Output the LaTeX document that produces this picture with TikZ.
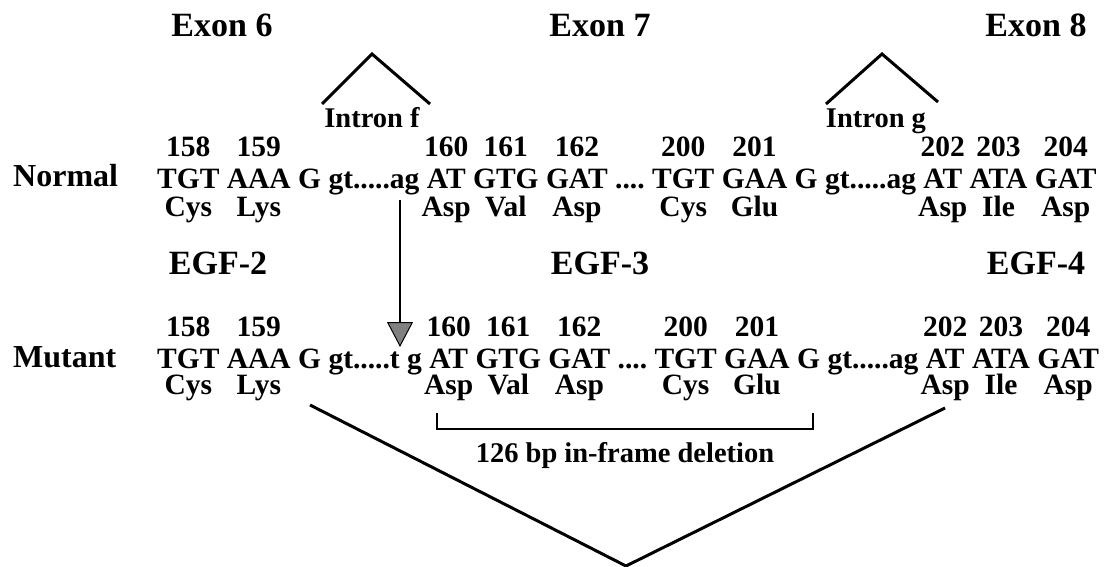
\documentclass[tikz,border=0pt]{standalone}
\usepackage{fontspec}
\setmainfont{Liberation Serif}
\usetikzlibrary{arrows.meta}

\tikzset{
  seq/.style={font=\fontsize{29.5}{30}\selectfont\bfseries, inner sep=0pt},
  big/.style={font=\fontsize{34}{36}\selectfont\bfseries, inner sep=0pt},
  side/.style={font=\fontsize{32}{34}\selectfont\bfseries, inner sep=0pt},
  small/.style={font=\fontsize{28.5}{30}\selectfont\bfseries, inner sep=0pt},
  thickline/.style={line width=3pt, line join=miter},
}

\begin{document}
\begin{tikzpicture}[x=1pt,y=-1pt]
  \useasboundingbox (0,0) rectangle (1120,567);

  % exon and domain titles
  \node[big,anchor=base] (ex6) at (222,37) {Exon 6};
  \node[big,anchor=base] (ex7) at (600,37) {Exon 7};
  \node[big,anchor=base] (ex8) at (1036,37) {Exon 8};
  \node[big,anchor=base] (egf2) at (218,274) {EGF-2};
  \node[big,anchor=base] (egf3) at (600,274) {EGF-3};
  \node[big,anchor=base] (egf4) at (1036,274) {EGF-4};

  % introns
  \coordinate (fl) at (322,104);
  \coordinate (ft) at (372,54);
  \coordinate (fr) at (430,104);
  \coordinate (gl) at (826,104);
  \coordinate (gt) at (882,54);
  \coordinate (gr) at (938,102);
  \draw[thickline] (fl) -- (ft) -- (fr);
  \draw[thickline] (gl) -- (gt) -- (gr);
  \node[small,anchor=base] (intf) at (372,128) {Intron f};
  \node[small,anchor=base] (intg) at (876,128) {Intron g};

  % normal sequence
  \node[side,anchor=base west] (normal) at (13,187) {Normal};
  \node[seq,anchor=base west] (n1) at (157,189) {TGT};
  \foreach \i/\j/\t in {2/1/AAA,3/2/{G gt.....ag},4/3/AT,5/4/GTG,6/5/GAT,7/6/{....},
                        8/7/TGT,9/8/GAA,10/9/{G gt.....ag},11/10/AT,12/11/ATA,13/12/GAT}
    \node[seq,anchor=base west] (n\i) at ([xshift=7pt]n\j.base east) {\t};
  \foreach \i/\n in {1/158,2/159,4/160,5/161,6/162,8/200,9/201,11/202,12/203,13/204}
    \node[seq,anchor=base] (nnum\i) at ([yshift=32pt]n\i.base) {\n};
  \foreach \i/\a in {1/Cys,2/Lys,4/Asp,5/Val,6/Asp,8/Cys,9/Glu,11/Asp,12/Ile,13/Asp}
    \node[seq,anchor=base] (naa\i) at ([yshift=-27pt]n\i.base) {\a};

  % mutant sequence
  \node[side,anchor=base west] (mutant) at (13,367) {Mutant};
  \node[seq,anchor=base west] (m1) at (157,368) {TGT};
  \foreach \i/\j/\t in {2/1/AAA,3/2/{G gt.....t g},4/3/AT,5/4/GTG,6/5/GAT,7/6/{....},
                        8/7/TGT,9/8/GAA,10/9/{G gt.....ag},11/10/AT,12/11/ATA,13/12/GAT}
    \node[seq,anchor=base west] (m\i) at ([xshift=7pt]m\j.base east) {\t};
  \foreach \i/\n in {1/158,2/159,4/160,5/161,6/162,8/200,9/201,11/202,12/203,13/204}
    \node[seq,anchor=base] (mnum\i) at ([yshift=32pt]m\i.base) {\n};
  \foreach \i/\a in {1/Cys,2/Lys,4/Asp,5/Val,6/Asp,8/Cys,9/Glu,11/Asp,12/Ile,13/Asp}
    \node[seq,anchor=base] (maa\i) at ([yshift=-26pt]m\i.base) {\a};

  % mutation arrow
  \coordinate (atop) at (400,200);
  \coordinate (atip) at (400,347);
  \draw[line width=2.5pt, -{Triangle[length=25pt,width=26pt,fill=gray,line width=1pt]}] (atop) -- (atip);

  % deleted region
  \coordinate (bl) at (437,413);
  \coordinate (br) at (813,413);
  \draw[line width=2pt] (bl) -- ++(0,16) -| (br);
  \node[small,anchor=base] (del) at (625,462) {126 bp in-frame deletion};

  % skipped exon
  \coordinate (vl) at (310,405);
  \coordinate (vb) at (626,566);
  \coordinate (vr) at (945,408);
  \draw[thickline] (vl) -- (vb) -- (vr);
\end{tikzpicture}
\end{document}
